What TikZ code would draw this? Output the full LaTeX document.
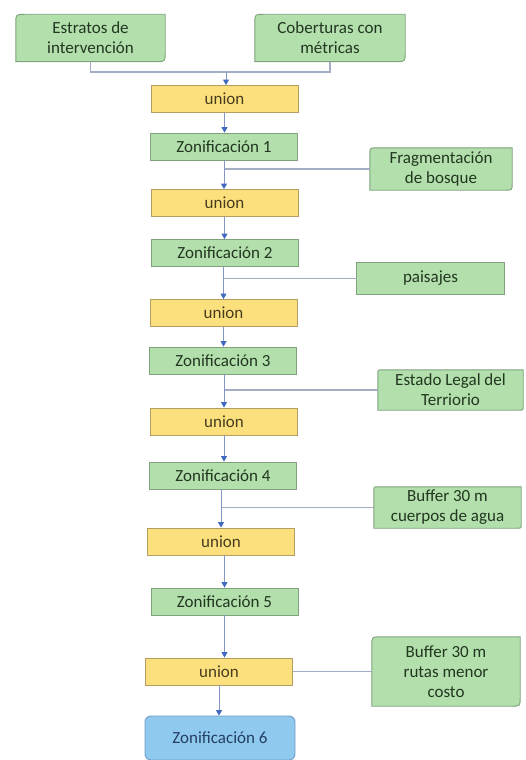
\documentclass[tikz,border=0pt]{standalone}
\usepackage{fontspec}
\setmainfont{Carlito}
\usetikzlibrary{arrows.meta,backgrounds}

\definecolor{grnfill}{HTML}{B2DFAC}
\definecolor{grndraw}{HTML}{7FA27D}
\definecolor{grntext}{HTML}{223620}
\definecolor{yelfill}{HTML}{FDE07E}
\definecolor{yeldraw}{HTML}{B39D62}
\definecolor{yeltext}{HTML}{463C1E}
\definecolor{blufill}{HTML}{8FC9EE}
\definecolor{bludraw}{HTML}{6E9EC6}
\definecolor{blutext}{HTML}{243F63}
\definecolor{linkcol}{HTML}{A3ADC4}
\definecolor{flowcol}{HTML}{8496C6}
\definecolor{tipcol}{HTML}{3F68BE}

\tikzset{
  txt/.style={font=\fontsize{17}{20}\selectfont},
  box/.style={txt, rectangle, minimum width=147pt, minimum height=27pt,
    inner sep=0pt, line width=0.9pt},
  unionbox/.style={box, fill=yelfill, draw=yeldraw, text=yeltext},
  zonbox/.style={box, fill=grnfill, draw=grndraw, text=grntext},
  finalbox/.style={box, fill=blufill, draw=bludraw, text=blutext, rounded corners=6pt},
  srcbox/.style={txt, rectangle, inner sep=0pt, align=center, text=grntext},
  srcframe/.style={fill=grnfill, draw=grndraw, line width=0.9pt},
  link/.style={draw=linkcol, line width=1.1pt},
  flow/.style={draw=flowcol, line width=1pt,
    -{Triangle[width=6pt,length=5.5pt,color=tipcol]}},
}

% frame with rounded top-left and bottom-right corners around a node
\newcommand\diagframe[2]{%
  \draw[srcframe] ([xshift=#2]#1.north west) -- (#1.north east)
    -- ([yshift=#2]#1.south east) .. controls (#1.south east) .. ([xshift=-#2]#1.south east)
    -- (#1.south west)
    -- ([yshift=-#2]#1.north west) .. controls (#1.north west) .. ([xshift=#2]#1.north west)
    -- cycle;}

\begin{document}
\begin{tikzpicture}[x=1pt, y=-1pt]
\useasboundingbox (0,0) rectangle (526,760);

% input layers
\node[srcbox, minimum width=149pt, minimum height=47pt] (est) at (90.5,38) {Estratos de\\intervención};
\node[srcbox, minimum width=150pt, minimum height=47pt] (cob) at (330,38) {Coberturas con\\métricas};
\node[srcbox, minimum width=142pt, minimum height=42pt] (frag) at (441,169) {Fragmentación\\de bosque};
\node[srcbox, minimum width=147pt, minimum height=31pt] (pais) at (430.5,278.5) {paisajes};
\node[srcbox, minimum width=145pt, minimum height=40pt] (legal) at (450.5,390) {Estado Legal del\\Terriorio};
\node[srcbox, minimum width=147pt, minimum height=41pt] (buf1) at (447.5,507.5) {Buffer 30 m\\cuerpos de agua};
\node[srcbox, minimum width=148pt, minimum height=69pt] (buf2) at (446,671.5) {Buffer 30 m\\rutas menor\\costo};

\begin{scope}[on background layer]
  \fill[white] (0,0) rectangle (526,760);
  \diagframe{est}{9pt}
  \diagframe{cob}{9pt}
  \diagframe{frag}{7pt}
  \diagframe{pais}{0pt}
  \diagframe{legal}{4pt}
  \diagframe{buf1}{4pt}
  \diagframe{buf2}{9pt}
\end{scope}

% processing chain
\node[unionbox] (u1) at (224.5,99) {union};
\node[zonbox]   (z1) at (224,146.5) {Zonificación 1};
\node[unionbox] (u2) at (224.5,203) {union};
\node[zonbox]   (z2) at (225,253) {Zonificación 2};
\node[unionbox] (u3) at (223.5,313) {union};
\node[zonbox]   (z3) at (223,360.5) {Zonificación 3};
\node[unionbox] (u4) at (224,421.5) {union};
\node[zonbox]   (z4) at (223,475.5) {Zonificación 4};
\node[unionbox] (u5) at (221,541.5) {union};
\node[zonbox]   (z5) at (224.5,601.5) {Zonificación 5};
\node[unionbox] (u6) at (219,671.5) {union};
\node[finalbox, minimum width=150pt, minimum height=44pt] (z6) at (220,738) {Zonificación 6};

% connectors
\coordinate (j0) at (226,72);
\draw[link] (est.south) |- (j0) -| (cob.south);
\draw[flow] (j0) -- (j0 |- u1.north);
\draw[flow] (u1.south) -- (u1.south |- z1.north);

\draw[link] (frag.west) -- (frag.west -| z1.south);
\draw[flow] (z1.south) -- (z1.south |- u2.north);
\draw[flow] (u2.south) -- (u2.south |- z2.north);

\draw[link] (pais.west) -- (pais.west -| u3.north);
\draw[flow] (z2.south -| u3.north) -- (u3.north);
\draw[flow] (u3.south) -- (u3.south |- z3.north);

\draw[link] (legal.west) -- (legal.west -| u4.north);
\draw[flow] (z3.south -| u4.north) -- (u4.north);
\draw[flow] (u4.south) -- (u4.south |- z4.north);

\draw[link] (buf1.west) -- (buf1.west -| u5.north);
\draw[flow] (z4.south -| u5.north) -- (u5.north);
\draw[flow] (u5.south -| z5.north) -- (z5.north);

\draw[flow] (z5.south) -- (z5.south |- u6.north);
\draw[link] (buf2.west) -- (u6.east);
\draw[flow] (u6.south) -- (u6.south |- z6.north);
\end{tikzpicture}
\end{document}
